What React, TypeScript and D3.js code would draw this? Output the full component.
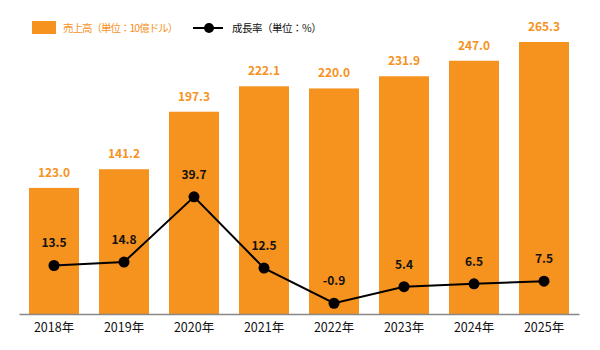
import React, { useRef, useEffect } from "react";
import * as d3 from "d3";

const years = ["2018年", "2019年", "2020年", "2021年", "2022年", "2023年", "2024年", "2025年"];
const sales = [123.0, 141.2, 197.3, 222.1, 220.0, 231.9, 247.0, 265.3];
const growth = [13.5, 14.8, 39.7, 12.5, -0.9, 5.4, 6.5, 7.5];
const salesLegend = "売上高（単位：10億ドル）";
const growthLegend = "成長率（単位：%）";

const ORANGE = "#F6921E";
const FONT = "'Noto Sans CJK JP', 'Noto Sans', sans-serif";

const App = () => {
    const svgRef = useRef<SVGSVGElement>(null);

    useEffect(() => {
        const svg = d3.select(svgRef.current);
        svg.selectAll("*").remove();

        const baseline = 314;

        const x = d3
            .scaleBand()
            .domain(years)
            .range([19, 579])
            .paddingInner(0.286)
            .paddingOuter(0.143);

        const ySales = d3.scaleLinear().domain([0, 265.3]).range([baseline, 42]);
        const yGrowth = d3.scaleLinear().domain([-5, 40]).range([baseline, 196]);
        const cx = (i: number) => x(years[i]) + x.bandwidth() / 2;

        const g = svg.append("g").style("font-family", FONT);

        // bars
        g.selectAll("rect.bar")
            .data(sales)
            .enter()
            .append("rect")
            .attr("class", "bar")
            .attr("x", (d, i) => x(years[i]))
            .attr("y", (d) => ySales(d))
            .attr("width", x.bandwidth())
            .attr("height", (d) => baseline - ySales(d))
            .attr("fill", ORANGE);

        // bar labels
        g.selectAll("text.barlab")
            .data(sales)
            .enter()
            .append("text")
            .attr("class", "barlab")
            .attr("x", (d, i) => cx(i))
            .attr("y", (d) => ySales(d) - 11)
            .attr("text-anchor", "middle")
            .attr("font-size", 12)
            .attr("font-weight", "bold")
            .attr("fill", ORANGE)
            .text((d) => d.toFixed(1));

        // axis
        const axis = g
            .append("g")
            .attr("transform", `translate(0,${baseline})`)
            .call(d3.axisBottom(x).tickSize(0).tickPadding(9));
        axis.select(".domain").attr("stroke", "#888").attr("stroke-width", 1.5);
        axis.selectAll("text")
            .attr("font-size", 12.5)
            .attr("fill", "#111")
            .style("font-family", FONT);

        // growth line
        const line = d3
            .line<number>()
            .x((d, i) => cx(i))
            .y((d) => yGrowth(d));

        g.append("path")
            .datum(growth)
            .attr("d", line)
            .attr("fill", "none")
            .attr("stroke", "#000")
            .attr("stroke-width", 2);

        g.selectAll("circle.pt")
            .data(growth)
            .enter()
            .append("circle")
            .attr("class", "pt")
            .attr("cx", (d, i) => cx(i))
            .attr("cy", (d) => yGrowth(d))
            .attr("r", 5.5)
            .attr("fill", "#000");

        g.selectAll("text.ptlab")
            .data(growth)
            .enter()
            .append("text")
            .attr("class", "ptlab")
            .attr("x", (d, i) => cx(i))
            .attr("y", (d) => yGrowth(d) - 18)
            .attr("text-anchor", "middle")
            .attr("font-size", 12)
            .attr("font-weight", "bold")
            .attr("fill", "#111")
            .text((d) => d.toFixed(1));

        // legend
        const legend = g.append("g");
        legend.append("rect").attr("x", 32).attr("y", 21).attr("width", 24).attr("height", 13).attr("fill", ORANGE);
        legend.append("text")
            .attr("x", 63)
            .attr("y", 32)
            .attr("font-size", 10.5)
            .attr("letter-spacing", -1)
            .attr("fill", ORANGE)
            .text(salesLegend);
        legend.append("line")
            .attr("x1", 193).attr("x2", 223).attr("y1", 28).attr("y2", 28)
            .attr("stroke", "#000").attr("stroke-width", 2);
        legend.append("circle").attr("cx", 209).attr("cy", 28).attr("r", 5).attr("fill", "#000");
        legend.append("text")
            .attr("x", 232)
            .attr("y", 32)
            .attr("font-size", 10.5)
            .attr("letter-spacing", -0.5)
            .attr("fill", "#111")
            .text(growthLegend);
    }, []);

    return (
        <svg
            ref={svgRef}
            width={600}
            height={350}
            style={{ position: "absolute", left: 0, top: 0, background: "#fff" }}
        />
    );
};

export default App;
